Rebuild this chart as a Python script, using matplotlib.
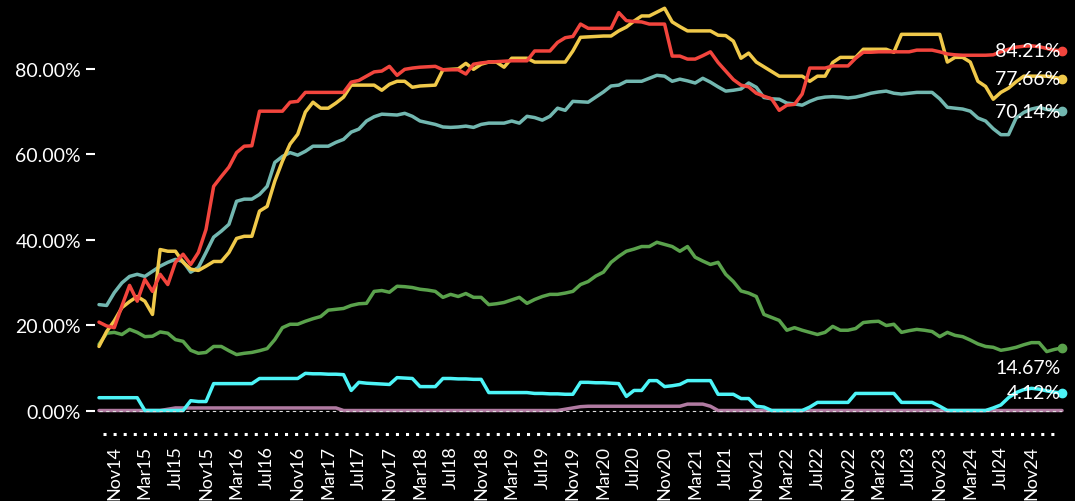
import matplotlib
matplotlib.use("Agg")
import matplotlib.pyplot as plt
import pandas as pd

# Monthly series, Sep 2014 .. Mar 2025 (127 months), values in %
months = pd.date_range("2014-09-01", "2025-03-01", freq="MS")

red = [20.7, 19.8, 19.4, 24.5, 29.3, 25.6, 30.7, 27.9, 31.9, 29.5,
       34.7, 36.6, 34.2, 37.0, 42.4, 52.5, 54.8, 57.0, 60.4, 61.9,
       62.0, 70.1, 70.1, 70.1, 70.1, 72.2, 72.4, 74.5, 74.5, 74.5,
       74.5, 74.5, 74.5, 76.9, 77.3, 78.3, 79.3, 79.5, 80.6, 78.5,
       79.9, 80.2, 80.4, 80.5, 80.6, 79.8, 79.8, 79.8, 78.8, 81.1,
       81.4, 81.6, 81.7, 81.8, 81.9, 81.9, 81.9, 84.2, 84.2, 84.2,
       86.2, 87.3, 87.6, 90.5, 89.5, 89.5, 89.5, 89.5, 93.2, 91.3,
       91.1, 91.0, 90.5, 90.5, 90.5, 83.0, 83.0, 82.3, 82.3, 83.1,
       84.0, 81.5, 79.5, 77.5, 76.2, 75.8, 74.3, 73.6, 73.0, 70.3,
       71.5, 71.7, 74.1, 80.2, 80.2, 80.2, 80.7, 80.7, 80.7, 82.5,
       83.9, 83.9, 84.0, 84.0, 84.0, 84.0, 84.0, 84.4, 84.4, 84.4,
       84.0, 83.5, 83.3, 83.2, 83.2, 83.2, 83.2, 83.3, 84.0, 84.6,
       85.1, 85.3, 85.4, 85.2, 84.8, 84.4, 84.21]

yellow = [15.0, 18.5, 21.0, 24.1, 25.5, 26.7, 25.6, 22.5, 37.7, 37.3,
          37.3, 34.7, 33.1, 32.8, 33.8, 34.9, 34.9, 37.0, 40.3, 40.8,
          40.8, 46.7, 47.8, 53.7, 58.4, 62.4, 64.7, 69.9, 72.2, 70.8,
          70.8, 72.0, 73.4, 76.2, 76.2, 76.2, 76.2, 75.0, 76.4, 77.1,
          77.1, 75.7, 76.0, 76.1, 76.2, 79.8, 79.9, 80.0, 81.3, 79.9,
          81.1, 81.6, 81.6, 80.4, 82.5, 82.5, 82.5, 81.6, 81.6, 81.6,
          81.6, 81.6, 84.2, 87.4, 87.5, 87.6, 87.7, 87.7, 88.9, 89.8,
          91.2, 92.4, 92.4, 93.3, 94.2, 91.0, 89.9, 88.9, 88.9, 88.9,
          88.9, 87.9, 87.8, 86.5, 82.5, 83.7, 81.6, 80.5, 79.4, 78.3,
          78.3, 78.3, 78.3, 77.1, 78.3, 78.3, 81.5, 82.7, 82.7, 82.7,
          84.6, 84.6, 84.6, 84.6, 83.9, 88.1, 88.1, 88.1, 88.1, 88.1,
          88.1, 81.6, 82.7, 82.7, 81.6, 77.1, 75.9, 72.9, 74.5, 75.5,
          77.0, 78.3, 78.3, 78.3, 78.3, 78.0, 77.66]

teal = [24.8, 24.6, 27.6, 29.9, 31.4, 31.9, 31.4, 32.6, 33.8, 34.7,
        35.4, 34.9, 32.4, 33.5, 37.0, 40.6, 42.0, 43.6, 49.0, 49.5,
        49.5, 50.6, 52.5, 58.1, 59.5, 60.4, 59.8, 60.7, 61.9, 61.9,
        61.9, 62.8, 63.5, 65.2, 65.9, 67.8, 68.8, 69.4, 69.3, 69.2,
        69.6, 68.9, 67.8, 67.4, 67.0, 66.4, 66.3, 66.4, 66.6, 66.3,
        67.0, 67.3, 67.3, 67.3, 67.8, 67.3, 68.9, 68.6, 68.0, 68.9,
        70.8, 70.3, 72.4, 72.3, 72.2, 73.4, 74.6, 76.0, 76.2, 77.1,
        77.1, 77.1, 77.8, 78.5, 78.3, 77.1, 77.6, 77.2, 76.7, 77.8,
        76.9, 75.8, 74.8, 75.0, 75.3, 76.7, 75.7, 73.3, 73.0, 72.9,
        72.0, 71.8, 71.5, 72.4, 73.1, 73.4, 73.5, 73.4, 73.2, 73.4,
        73.8, 74.3, 74.6, 74.8, 74.3, 74.1, 74.3, 74.5, 74.5, 74.5,
        73.0, 71.0, 70.8, 70.6, 70.1, 68.5, 67.8, 66.0, 64.6, 64.6,
        68.5, 69.8, 70.6, 71.0, 70.5, 70.3, 70.14]

green = [15.5, 18.1, 18.3, 17.8, 19.0, 18.3, 17.3, 17.4, 18.4, 18.1,
         16.6, 16.2, 14.1, 13.4, 13.6, 15.0, 15.0, 14.0, 13.1, 13.4,
         13.6, 14.0, 14.5, 16.6, 19.4, 20.2, 20.2, 20.9, 21.5, 22.0,
         23.5, 23.7, 23.9, 24.6, 25.0, 25.1, 27.9, 28.1, 27.7, 29.1,
         29.0, 28.8, 28.4, 28.2, 27.9, 26.5, 27.2, 26.7, 27.4, 26.5,
         26.5, 24.8, 25.0, 25.3, 25.9, 26.5, 25.1, 26.0, 26.7, 27.2,
         27.2, 27.5, 27.9, 29.5, 30.2, 31.5, 32.4, 34.7, 36.1, 37.3,
         37.8, 38.4, 38.4, 39.4, 38.9, 38.4, 37.3, 38.4, 35.9, 35.0,
         34.2, 34.7, 31.9, 30.2, 28.0, 27.5, 26.7, 22.5, 21.8, 21.1,
         18.8, 19.4, 18.8, 18.3, 17.8, 18.3, 19.7, 18.8, 18.8, 19.2,
         20.6, 20.8, 20.9, 19.9, 20.2, 18.3, 18.7, 19.0, 18.8, 18.5,
         17.3, 18.3, 17.6, 17.3, 16.5, 15.6, 15.0, 14.8, 14.1, 14.4,
         14.8, 15.4, 15.9, 15.9, 13.8, 14.3, 14.67]

cyan = [3.0, 3.0, 3.0, 3.0, 3.0, 3.0, 0.0, 0.0, 0.0, 0.0,
        0.0, 0.0, 2.3, 2.1, 2.1, 6.3, 6.3, 6.3, 6.3, 6.3,
        6.3, 7.5, 7.5, 7.5, 7.5, 7.5, 7.5, 8.7, 8.6, 8.6,
        8.5, 8.5, 8.4, 4.7, 6.6, 6.4, 6.3, 6.2, 6.1, 7.7,
        7.6, 7.5, 5.6, 5.6, 5.6, 7.5, 7.5, 7.4, 7.4, 7.3,
        7.3, 4.2, 4.2, 4.2, 4.2, 4.2, 4.2, 4.0, 4.0, 3.9,
        3.9, 3.8, 3.8, 6.6, 6.6, 6.5, 6.5, 6.4, 6.3, 3.3,
        4.7, 4.7, 7.0, 7.0, 5.6, 5.8, 6.1, 7.0, 7.0, 7.0,
        7.0, 3.8, 3.8, 3.8, 2.8, 2.8, 1.0, 0.8, 0.0, 0.0,
        0.0, 0.0, 0.0, 0.8, 1.9, 1.9, 1.9, 1.9, 1.9, 4.0,
        4.0, 4.0, 4.0, 4.0, 4.0, 1.9, 1.9, 1.9, 1.9, 1.9,
        1.0, 0.0, 0.0, 0.0, 0.0, 0.0, 0.0, 0.6, 1.3, 3.0,
        4.2, 4.9, 5.2, 5.0, 4.6, 4.3, 4.12]

purple = [0.0, 0.0, 0.0, 0.0, 0.0, 0.0, 0.0, 0.0, 0.0, 0.3,
          0.6, 0.6, 0.6, 0.6, 0.6, 0.6, 0.6, 0.6, 0.6, 0.6,
          0.6, 0.6, 0.6, 0.6, 0.6, 0.6, 0.6, 0.6, 0.6, 0.6,
          0.6, 0.6, 0.0, 0.0, 0.0, 0.0, 0.0, 0.0, 0.0, 0.0,
          0.0, 0.0, 0.0, 0.0, 0.0, 0.0, 0.0, 0.0, 0.0, 0.0,
          0.0, 0.0, 0.0, 0.0, 0.0, 0.0, 0.0, 0.0, 0.0, 0.0,
          0.0, 0.3, 0.6, 0.9, 1.0, 1.0, 1.0, 1.0, 1.0, 1.0,
          1.0, 1.0, 1.0, 1.0, 1.0, 1.0, 1.0, 1.5, 1.5, 1.5,
          1.0, 0.0, 0.0, 0.0, 0.0, 0.0, 0.0, 0.0, 0.0, 0.0,
          0.0, 0.0, 0.0, 0.0, 0.0, 0.0, 0.0, 0.0, 0.0, 0.0,
          0.0, 0.0, 0.0, 0.0, 0.0, 0.0, 0.0, 0.0, 0.0, 0.0,
          0.0, 0.0, 0.0, 0.0, 0.0, 0.0, 0.0, 0.0, 0.0, 0.0,
          0.0, 0.0, 0.0, 0.0, 0.0, 0.0, 0.0]

end_labels = ["84.21%", "77.66%", "70.14%", "14.67%", "4.12%"]
yticks = [0, 20, 40, 60, 80]
ytick_labels = ["0.00%", "20.00%", "40.00%", "60.00%", "80.00%"]
# every 4th month from Nov14 to Nov24
xtick_idx = list(range(2, 123, 4))
xtick_labels = [months[i].strftime("%b%y") for i in xtick_idx]

colors = {"red": "#f2453d", "yellow": "#f0c94a", "teal": "#72b7b0",
          "green": "#5aa24c", "cyan": "#4df4f7", "purple": "#b07aa1"}

plt.rcParams["font.family"] = ["Lato", "DejaVu Sans"]

fig = plt.figure(figsize=(10.75, 5.02), dpi=100, facecolor="black")
ax = fig.add_axes([99 / 1075, (502 - 435) / 502, (1062 - 99) / 1075, (435 - 5) / 502])
ax.set_facecolor("black")

x = list(range(len(months)))
series = [("purple", purple), ("green", green), ("cyan", cyan),
          ("teal", teal), ("yellow", yellow), ("red", red)]
for name, vals in series:
    ax.plot(x, vals, color=colors[name], lw=2.5, solid_joinstyle="round",
            solid_capstyle="round", clip_on=False, zorder=3)

ax.axhline(0, color="#dddddd", lw=0.8, ls=(0, (3, 3)), zorder=4)

# end markers and labels
labelled = [("red", red, 0), ("yellow", yellow, 0), ("teal", teal, 0),
            ("green", green, -14), ("cyan", cyan, 0)]
for (name, vals, dy), lab in zip(labelled, end_labels):
    ax.plot([x[-1]], [vals[-1]], "o", color=colors[name], ms=6,
            clip_on=False, zorder=5)
    ax.annotate(lab, (x[-1], vals[-1]), xytext=(-1, dy), textcoords="offset points",
                ha="right", va="center", color="white", fontsize=14, zorder=6)

ymin, ymax = -5.5, 95.2
ax.set_xlim(0, len(months) - 1)
ax.set_ylim(ymin, ymax)

ax.set_yticks(yticks)
ax.set_yticklabels(ytick_labels)
ax.set_xticks(xtick_idx)
ax.set_xticklabels(xtick_labels, rotation=90)

ax.tick_params(axis="y", colors="white", length=6.5, width=1.5, pad=3.5,
               labelsize=14)
ax.tick_params(axis="x", colors="white", length=0, pad=8, labelsize=13)

for s in ["top", "right", "left", "bottom"]:
    ax.spines[s].set_visible(False)
ax.spines["left"].set_position(("outward", 3))

# dotted baseline
ax.axhline(ymin, xmin=0.004, xmax=0.996, color="white", lw=2.2,
           ls=(0, (1, 2.3)), dash_capstyle="butt", clip_on=False, zorder=2)

fig.savefig("out.png", dpi=100, facecolor="black")
